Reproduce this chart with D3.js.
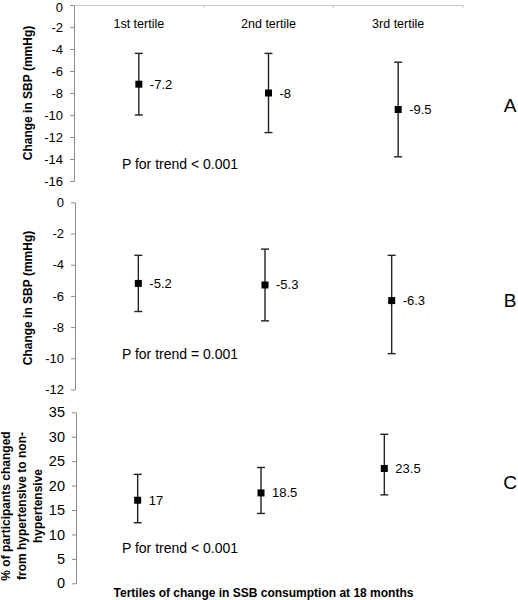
<!DOCTYPE html>
<html><head><meta charset="utf-8">
<script src="https://cdn.jsdelivr.net/npm/d3@7"></script>
<style>body{margin:0;background:#fff}svg{display:block}text{font-family:"Liberation Sans",Arial,sans-serif}</style>
</head><body>
<script>
const categories = ["1st tertile", "2nd tertile", "3rd tertile"];
// Panel A
const sbpMean = [-7.2, -8, -9.5];
const sbpLow = [-10.0, -11.6, -13.8];
const sbpHigh = [-4.4, -4.4, -5.2];
const sbpLabels = ["-7.2", "-8", "-9.5"];
const sbpTicks = [0, -2, -4, -6, -8, -10, -12, -14, -16];
// Panel B
const sbpAdjMean = [-5.2, -5.3, -6.3];
const sbpAdjLow = [-7.0, -7.6, -9.7];
const sbpAdjHigh = [-3.4, -3.0, -3.4];
const sbpAdjLabels = ["-5.2", "-5.3", "-6.3"];
const sbpAdjTicks = [0, -2, -4, -6, -8, -10, -12];
// Panel C
const htnMean = [17, 18.5, 23.5];
const htnLow = [12.4, 14.3, 18.1];
const htnHigh = [22.3, 23.7, 30.5];
const htnLabels = ["17", "18.5", "23.5"];
const htnTicks = [0, 5, 10, 15, 20, 25, 30, 35];

const W = 518, H = 600;
const svg = d3.select("body").append("svg").attr("width", W).attr("height", H);

const panels = [
  {mean: sbpMean, low: sbpLow, high: sbpHigh, labels: sbpLabels, ticks: sbpTicks,
   domain: [0, -16], y0: 5, y1: 181, x0: 74, x1: 463, topAxis: true, showCats: true,
   tickFont: 13, ptext: "P for trend < 0.001", py: 164, letter: "A", ly: 105,
   ylab: ["Change in SBP (mmHg)"], ylabX: [28], ylabY: 93},
  {mean: sbpAdjMean, low: sbpAdjLow, high: sbpAdjHigh, labels: sbpAdjLabels, ticks: sbpAdjTicks,
   domain: [0, -12], y0: 202.3, y1: 389.5, x0: 75, x1: 455, topAxis: false, showCats: false,
   tickFont: 13, ptext: "P for trend = 0.001", py: 354, letter: "B", ly: 300,
   ylab: ["Change in SBP (mmHg)"], ylabX: [28], ylabY: 298},
  {mean: htnMean, low: htnLow, high: htnHigh, labels: htnLabels, ticks: htnTicks,
   domain: [35, 0], y0: 412.3, y1: 583.3, x0: 76, x1: 446, topAxis: false, showCats: false,
   tickFont: 14.5, ptext: "P for trend < 0.001", py: 548, letter: "C", ly: 482,
   ylab: ["% of participants changed", "from hypertensive to non-", "hypertensive"], ylabX: [6, 22, 38], ylabY: 506}
];

panels.forEach((p, pi) => {
  const y = d3.scaleLinear().domain(p.domain).range([p.y0, p.y1]);
  const x = d3.scaleBand().domain(categories).range([p.x0, p.x1]);
  const g = svg.append("g");

  // y axis
  const ya = g.append("g").attr("transform", `translate(${p.x0},0)`)
    .call(d3.axisLeft(y).tickValues(p.ticks).tickSize(4).tickSizeOuter(0).tickPadding(7)
      .tickFormat(d => d3.format("d")(d).replace("−", "-")));
  ya.select(".domain").attr("stroke", "#8c8c8c");
  ya.selectAll(".tick line").attr("stroke", "#8c8c8c");
  ya.selectAll(".tick text").attr("fill", "#000").style("font-size", p.tickFont + "px")
    .style("font-family", "'Liberation Sans', Arial, sans-serif");
  if (pi === 0) {
    ya.selectAll(".tick text").filter(d => d === 0).attr("dy", "0.5em");
  }

  if (p.topAxis) {
    const xa = g.append("g").attr("transform", `translate(0,${y(0)})`)
      .call(d3.axisBottom(x).tickSize(0).tickSizeOuter(0).tickFormat(""));
    xa.select(".domain").attr("stroke", "#c8c8c8");
    const bounds = [p.x0 + x.step(), p.x0 + 2 * x.step(), p.x1];
    xa.selectAll(".bnd").data(bounds).enter().append("line")
      .attr("x1", d => d).attr("x2", d => d).attr("y1", 0).attr("y2", 3)
      .attr("stroke", "#c8c8c8");
  }

  if (p.showCats) {
    g.selectAll(".cat").data(categories).enter().append("text")
      .attr("x", d => x(d) + x.bandwidth() / 2).attr("y", 24)
      .attr("text-anchor", "middle").attr("dominant-baseline", "central")
      .style("font-size", "12.5px").text(d => d);
  }

  const idx = d3.range(categories.length);
  const cx = i => x(categories[i]) + x.bandwidth() / 2;
  // error bars
  const eb = g.selectAll(".eb").data(idx).enter().append("g");
  eb.append("line").attr("x1", cx).attr("x2", cx)
    .attr("y1", i => y(p.high[i])).attr("y2", i => y(p.low[i]))
    .attr("stroke", "#222").attr("stroke-width", 1.4);
  eb.append("line").attr("x1", i => cx(i) - 4).attr("x2", i => cx(i) + 4)
    .attr("y1", i => y(p.high[i])).attr("y2", i => y(p.high[i]))
    .attr("stroke", "#222").attr("stroke-width", 1.4);
  eb.append("line").attr("x1", i => cx(i) - 4).attr("x2", i => cx(i) + 4)
    .attr("y1", i => y(p.low[i])).attr("y2", i => y(p.low[i]))
    .attr("stroke", "#222").attr("stroke-width", 1.4);
  // markers
  g.selectAll(".pt").data(idx).enter().append("rect")
    .attr("x", i => cx(i) - 3.5).attr("y", i => y(p.mean[i]) - 3.5)
    .attr("width", 7).attr("height", 7).attr("fill", "#000");
  // value labels
  g.selectAll(".vl").data(idx).enter().append("text")
    .attr("x", i => cx(i) + 11).attr("y", i => y(p.mean[i]))
    .attr("dominant-baseline", "central").style("font-size", "13px")
    .text(i => p.labels[i]);

  // p text
  g.append("text").attr("x", 180).attr("y", p.py).attr("text-anchor", "middle")
    .attr("dominant-baseline", "central").style("font-size", "14px").text(p.ptext);
  // letter
  g.append("text").attr("x", 510).attr("y", p.ly).attr("text-anchor", "middle")
    .attr("dominant-baseline", "central").style("font-size", "19px").text(p.letter);
  // y label
  p.ylab.forEach((t, k) => {
    g.append("text").attr("transform", `translate(${p.ylabX[k]},${p.ylabY}) rotate(-90)`)
      .attr("text-anchor", "middle").attr("dominant-baseline", "central")
      .style("font-size", "12px").style("font-weight", "bold").text(t);
  });
});

svg.append("text").attr("x", 263.5).attr("y", 593).attr("text-anchor", "middle")
  .attr("dominant-baseline", "central").style("font-size", "12px").style("font-weight", "bold")
  .text("Tertiles of change in SSB consumption at 18 months");
</script>
</body></html>
